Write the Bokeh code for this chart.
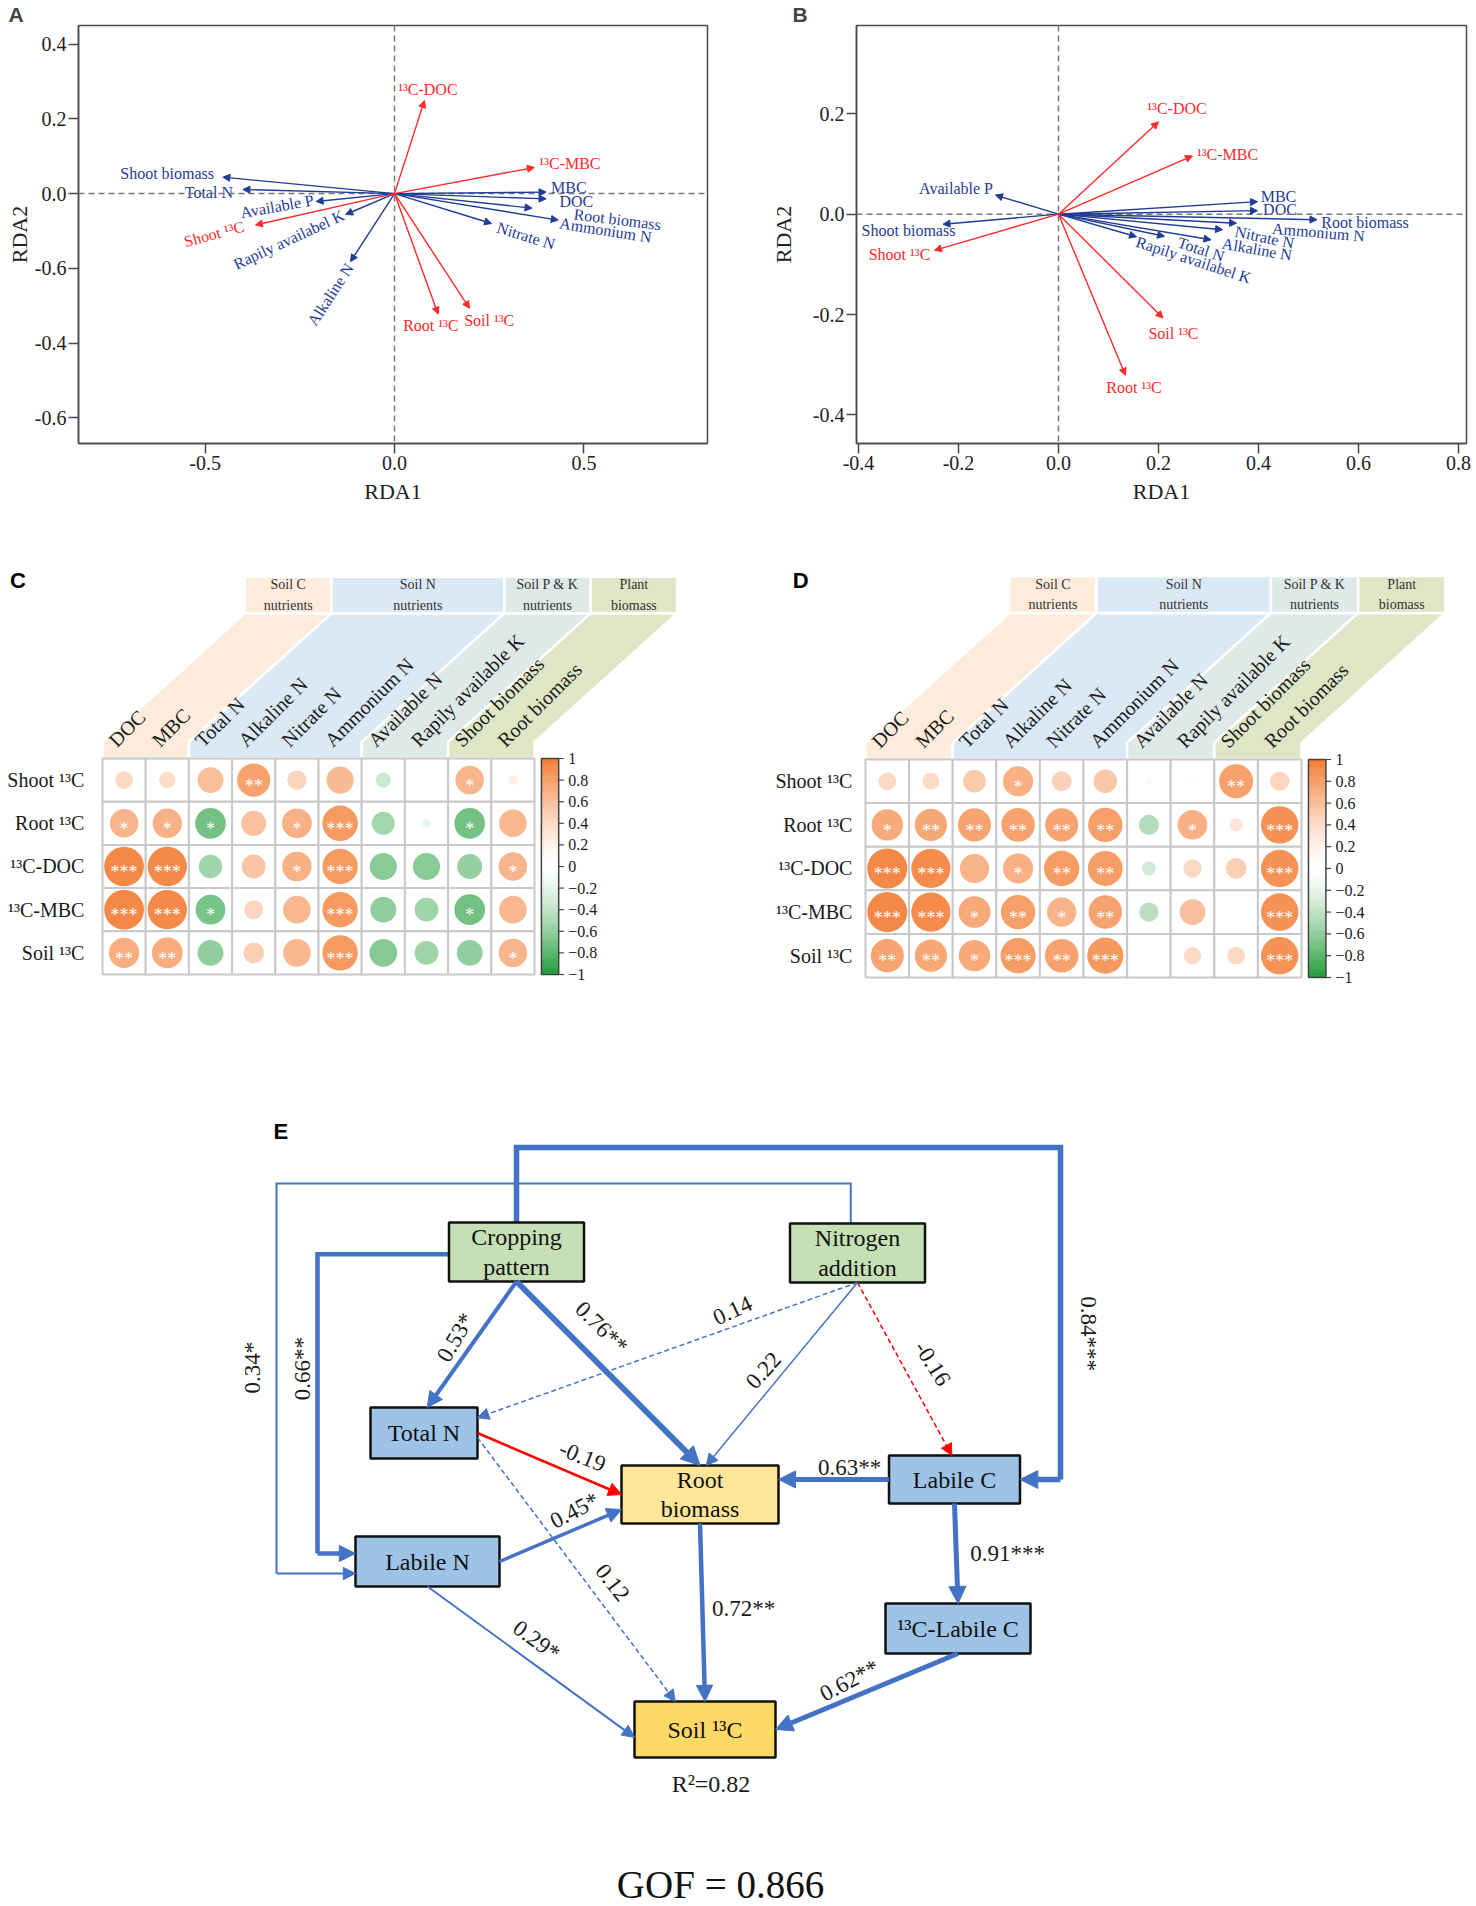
import math
from bokeh.plotting import figure
from bokeh.layouts import column, row
from bokeh.models import (Range1d, Span, Arrow, NormalHead, ColumnDataSource,
                          FixedTicker, CustomJSTickFormatter)
from bokeh.embed import file_html
from bokeh.resources import INLINE
from bokeh.core.properties import value

SERIF = "Liberation Serif"
SANS = "Liberation Sans"
RDA_BLUE = "#1f3c96"
RDA_RED = "#ff2a2a"
AXIS_COL = "#4a4a4a"

# ---------------------------------------------------------------- data: RDA (A, B)
rda_vars = ["¹³C-DOC", "¹³C-MBC", "Shoot ¹³C", "Root ¹³C", "Soil ¹³C",
            "Shoot biomass", "Total N", "Available P", "Rapily availabel K", "Alkaline N",
            "MBC", "DOC", "Root biomass", "Ammonium N", "Nitrate N"]
rda_is_response = [True, True, True, True, True,
                   False, False, False, False, False, False, False, False, False, False]

A_rda1 = [0.079, 0.369, -0.367, 0.115, 0.198, -0.453, -0.400, -0.207, -0.129, -0.116,
          0.400, 0.400, 0.363, 0.432, 0.256]
A_rda2 = [0.249, 0.070, -0.084, -0.323, -0.307, 0.044, 0.011, -0.021, -0.056, -0.182,
          0.004, -0.014, -0.039, -0.071, -0.080]
B_rda1 = [0.200, 0.268, -0.248, 0.134, 0.209, -0.231, 0.212, -0.126, 0.156, 0.305,
          0.398, 0.398, 0.517, 0.356, 0.328]
B_rda2 = [0.184, 0.116, -0.072, -0.321, -0.207, -0.020, -0.044, 0.038, -0.045, -0.051,
          0.025, 0.007, -0.011, -0.018, -0.031]

A_xticks = [-0.5, 0.0, 0.5]
A_xtick_labels = ["-0.5", "0.0", "0.5"]
A_yticks = [0.4, 0.2, 0.0, -0.2, -0.4, -0.6]
A_ytick_labels = ["0.4", "0.2", "0.0", "-0.6", "-0.4", "-0.6"]
B_xticks = [-0.4, -0.2, 0.0, 0.2, 0.4, 0.6, 0.8]
B_xtick_labels = ["-0.4", "-0.2", "0.0", "0.2", "0.4", "0.6", "0.8"]
B_yticks = [0.2, 0.0, -0.2, -0.4]
B_ytick_labels = ["0.2", "0.0", "-0.2", "-0.4"]
panel_letters = ["A", "B", "C", "D", "E"]

# label placement (layout only)
A_label_xy = [(0.088, 0.28), (0.463, 0.081), (-0.476, -0.108), (0.096, -0.353), (0.25, -0.34),
              (-0.60, 0.055), (-0.49, 0.004), (-0.31, -0.034), (-0.279, -0.123), (-0.169, -0.27),
              (0.46, 0.017), (0.48, -0.02), (0.588, -0.069), (0.557, -0.098), (0.347, -0.113)]
A_label_rot = [0, 0, 15, 0, 0, 0, 0, 10, 25, 57, 0, 0, -7, -9, -17]
B_label_xy = [(0.237, 0.21), (0.338, 0.119), (-0.318, -0.08), (0.151, -0.346), (0.23, -0.237),
              (-0.30, -0.033), (0.285, -0.07), (-0.205, 0.052), (0.27, -0.091), (0.397, -0.07),
              (0.44, 0.036), (0.443, 0.010), (0.613, -0.017), (0.52, -0.036), (0.412, -0.046)]
B_label_rot = [0, 0, 0, 0, 0, 0, -18, 0, -18, -10, 0, 0, 0, -5, -12]

# ---------------------------------------------------------------- data: correlations (C, D)
corr_rows = ["Shoot ¹³C", "Root ¹³C", "¹³C-DOC", "¹³C-MBC", "Soil ¹³C"]
corr_cols = ["DOC", "MBC", "Total N", "Alkaline N", "Nitrate N", "Ammonium N",
             "Available N", "Rapily available K", "Shoot biomass", "Root biomass"]
corr_groups = ["Soil C\nnutrients", "Soil N\nnutrients", "Soil P & K\nnutrients", "Plant\nbiomass"]
corr_group_span = [(0, 2), (2, 6), (6, 8), (8, 10)]
colorbar_ticks = [1, 0.8, 0.6, 0.4, 0.2, 0, -0.2, -0.4, -0.6, -0.8, -1]
colorbar_labels = ["1", "0.8", "0.6", "0.4", "0.2", "0", "−0.2", "−0.4", "−0.6", "−0.8", "−1"]

C_r = [
    [0.41, 0.38, 0.60, 0.77, 0.45, 0.63, -0.35, -0.05, 0.66, 0.22],
    [0.66, 0.68, -0.71, 0.58, 0.69, 0.82, -0.53, -0.20, -0.71, 0.64],
    [0.92, 0.91, -0.54, 0.55, 0.68, 0.82, -0.63, -0.63, -0.58, 0.66],
    [0.92, 0.91, -0.69, 0.44, 0.64, 0.82, -0.60, -0.55, -0.71, 0.64],
    [0.70, 0.71, -0.60, 0.48, 0.64, 0.82, -0.64, -0.55, -0.60, 0.66],
]
C_sig = [
    ["", "", "", "**", "", "", "", "", "*", ""],
    ["*", "*", "*", "", "*", "***", "", "", "*", ""],
    ["***", "***", "", "", "*", "***", "", "", "", "*"],
    ["***", "***", "*", "", "", "***", "", "", "*", ""],
    ["**", "**", "", "", "", "***", "", "", "", "*"],
]
D_r = [
    [0.41, 0.39, 0.52, 0.69, 0.46, 0.54, -0.12, 0.10, 0.78, 0.44],
    [0.72, 0.74, 0.76, 0.77, 0.76, 0.79, -0.46, 0.68, 0.30, 0.86],
    [0.92, 0.90, 0.67, 0.69, 0.81, 0.80, -0.32, 0.42, 0.48, 0.86],
    [0.92, 0.90, 0.73, 0.79, 0.67, 0.77, -0.44, 0.59, 0.00, 0.86],
    [0.76, 0.74, 0.72, 0.81, 0.77, 0.83, 0.05, 0.40, 0.41, 0.86],
]
D_sig = [
    ["", "", "", "*", "", "", "", "", "**", ""],
    ["*", "**", "**", "**", "**", "**", "", "*", "", "***"],
    ["***", "***", "", "*", "**", "**", "", "", "", "***"],
    ["***", "***", "*", "**", "*", "**", "", "", "", "***"],
    ["**", "**", "*", "***", "**", "***", "", "", "", "***"],
]

# ---------------------------------------------------------------- data: path model (E)
node_labels = ["Cropping\npattern", "Nitrogen\naddition", "Total N", "Root\nbiomass",
               "Labile C", "Labile N", "¹³C-Labile C", "Soil ¹³C"]
node_role = ["factor", "factor", "soil", "plant", "soil", "soil", "soil", "response"]
# node layout (page pixel frame of panel E)
node_cx = [516, 857, 423.5, 699.5, 954, 427, 957.5, 704.5]
node_cy = [1251.5, 1252.5, 1432.5, 1494, 1479, 1561, 1628, 1729]
node_w = [135, 135, 107, 157, 131, 144, 145, 141]
node_h = [59, 59, 51, 58, 48, 50, 50, 56]

path_from = [0, 0, 1, 1, 1, 2, 2, 5, 5, 3, 4, 4, 6, 0, 1, 0]
path_to = [2, 3, 2, 3, 4, 3, 7, 3, 7, 7, 3, 6, 7, 4, 5, 5]
path_coef = ["0.53*", "0.76**", "0.14", "0.22", "-0.16", "-0.19", "0.12", "0.45*", "0.29*",
             "0.72**", "0.63**", "0.91***", "0.62**", "0.84***", "0.34*", "0.66**"]
r2_text = "R²=0.82"
gof_text = "GOF = 0.866"

# edge layout / style
path_width = [4, 6, 1.5, 1.5, 1.5, 2.5, 1.5, 3.5, 2, 4.5, 5, 5, 5, 5.5, 2, 4.5]
path_dashed = [False, False, True, False, True, False, True, False, False,
               False, False, False, False, False, False, False]
src_side = ["bottom", "bottom", "bottom", "bottom", "bottom", "right", "right", "right", "bottom",
            "bottom", "left", "bottom", "bottom", "top", "top", "left"]
src_frac = [0, 0, 0, 0, 0, 0, 0.09, 0, 0, 0, 0, 0, 0, 0, -0.05, 0.04]
dst_side = ["top", "top", "right", "top", "top", "left", "top", "left", "left",
            "top", "right", "top", "right", "right", "left", "left"]
dst_frac = [0.03, 0, -0.3, 0.04, -0.02, 0, -0.21, 0.26, 0.14, 0, -0.26, 0, 0, 0, 0.24, -0.16]
path_route = [[], [], [], [], [], [], [], [], [], [], [], [], [],
              [("y", 1147), ("x", 1060), ("y", None)],
              [("y", 1183), ("x", 276), ("y", None)],
              [("x", 317), ("y", None)]]
path_label_pos = [(455, 1337, 60), (601, 1327, -45), (732, 1310, 25), (763, 1370, 48),
                  (932, 1363, -58), (582, 1456, -22), (612, 1582, -52), (574, 1510, 28),
                  (536, 1640, -36), (743, 1608, 0), (849, 1467, 0), (1007, 1553, 0),
                  (849, 1680, 28), (1088, 1333, -90), (252, 1367, 90), (302, 1368, 90)]


# ================================================================ helpers
def tick_fmt(tvals, tlabels):
    return CustomJSTickFormatter(args=dict(tvals=list(tvals), tlabels=list(tlabels)), code="""
        let best = 0; let bd = Infinity;
        for (let i = 0; i < tvals.length; i++) {
            const d = Math.abs(tvals[i] - tick);
            if (d < bd) { bd = d; best = i; }
        }
        return tlabels[best];
    """)


ORANGE = (243, 122, 48)
GREEN = (30, 155, 55)


def rcolor(r):
    t = min(abs(r), 1.0) ** 1.4
    c = ORANGE if r >= 0 else GREEN
    rgb = [round(255 + (c[k] - 255) * t) for k in range(3)]
    return "#%02x%02x%02x" % tuple(rgb)


def blank_fig(width, height, xr, yr):
    p = figure(width=width, height=height, x_range=Range1d(*xr), y_range=Range1d(*yr),
               output_backend="svg", toolbar_location=None,
               x_axis_location=None, y_axis_location=None, min_border=0,
               outline_line_color=None)
    p.grid.visible = False
    return p


def rda_panel(letter, letter_offset, rda1, rda2, lab_xy, lab_rot, xr, yr, xt, xl, yt, yl,
              borders, ylab_standoff):
    bl, br, bt, bb = borders
    p = figure(width=738, height=530, x_range=Range1d(*xr), y_range=Range1d(*yr),
               output_backend="svg", toolbar_location=None,
               min_border_left=bl, min_border_right=br, min_border_top=bt, min_border_bottom=bb)
    p.title.text = letter
    p.title.text_font = SANS
    p.title.text_font_style = "bold"
    p.title.text_font_size = "21px"
    p.title.align = "left"
    p.title.offset = letter_offset
    p.title.standoff = 0
    p.grid.visible = False
    p.outline_line_color = AXIS_COL
    p.outline_line_width = 1.5
    for ax, ticks, labels, name in ((p.xaxis[0], xt, xl, "RDA1"), (p.yaxis[0], yt, yl, "RDA2")):
        ax.ticker = FixedTicker(ticks=ticks)
        ax.formatter = tick_fmt(ticks, labels)
        ax.axis_label = name
        ax.axis_label_text_font = SERIF
        ax.axis_label_text_font_size = "22px"
        ax.axis_label_text_font_style = "normal"
        ax.axis_label_text_color = "#222222"
        ax.major_label_text_font = SERIF
        ax.major_label_text_font_size = "20px"
        ax.major_label_text_color = "#222222"
        ax.axis_line_color = AXIS_COL
        ax.axis_line_width = 1.5
        ax.major_tick_line_color = AXIS_COL
        ax.major_tick_line_width = 1.5
        ax.major_tick_out = 10
        ax.major_tick_in = 0
        ax.minor_tick_line_color = None
        ax.major_label_standoff = 2
    p.yaxis[0].axis_label_standoff = ylab_standoff
    p.xaxis[0].axis_label_standoff = 6
    p.add_layout(Span(location=0, dimension="width", line_color="#7a7a7a",
                      line_dash="6 4", line_width=1.5))
    p.add_layout(Span(location=0, dimension="height", line_color="#7a7a7a",
                      line_dash="6 4", line_width=1.5))
    for resp, col in ((False, RDA_BLUE), (True, RDA_RED)):
        idx = [i for i, v in enumerate(rda_is_response) if v == resp]
        src = ColumnDataSource(dict(x0=[0.0] * len(idx), y0=[0.0] * len(idx),
                                    x1=[rda1[i] for i in idx], y1=[rda2[i] for i in idx]))
        p.add_layout(Arrow(end=NormalHead(size=7, fill_color=col, line_color=col, line_width=1),
                           x_start="x0", y_start="y0", x_end="x1", y_end="y1", source=src,
                           line_color=col, line_width=1.4))
        p.text(x=[lab_xy[i][0] for i in idx], y=[lab_xy[i][1] for i in idx],
               text=[rda_vars[i] for i in idx],
               angle=[math.radians(lab_rot[i]) for i in idx],
               text_color=col, text_font=value(SERIF), text_font_size="16px",
               text_align="center", text_baseline="middle")
    return p


GROUP_COLORS = ["#fdebdc", "#dbe9f7", "#dfe9e7", "#dee6c6"]
SH, YB, YH, YT = 3.3, -0.38, -3.36, -4.21


def corr_panel(letter, R, S, xr, yr, rowlab_x, letter_xy):
    p = blank_fig(738, 470, xr, yr)
    # group bands
    for (b0, b1), gname, col in zip(corr_group_span, corr_groups, GROUP_COLORS):
        p.patch([b0, b0, b0 + SH, b1 + SH, b1, b1], [0, YB, YH, YH, YB, 0],
                fill_color=col, line_color="white", line_width=2.5)
        p.patch([b0 + SH, b1 + SH, b1 + SH, b0 + SH], [YH, YH, YT, YT],
                fill_color=col, line_color="white", line_width=2.5)
        p.text(x=[(b0 + b1) / 2 + SH], y=[(YH + YT) / 2], text=[gname],
               text_font=value(SERIF), text_font_size="14px", text_color="#333333",
               text_align="center", text_baseline="middle", text_line_height=1.35)
    # column labels
    p.text(x=[i + 0.22 for i in range(len(corr_cols))], y=[-0.35] * len(corr_cols),
           text=corr_cols, angle=[math.radians(45)] * len(corr_cols),
           text_font=value(SERIF), text_font_size="20px", text_color="#1a1a1a",
           text_align="left", text_baseline="middle")
    # cells
    cx, cy, rr, st = [], [], [], []
    for j in range(len(corr_rows)):
        for i in range(len(corr_cols)):
            cx.append(i + 0.5)
            cy.append(j + 0.5)
            rr.append(R[j][i])
            st.append(S[j][i])
    p.rect(x=cx, y=cy, width=1, height=1, fill_color="white", line_color="#c8c8c8",
           line_width=2)
    p.circle(x=cx, y=cy, radius=[0.5 * abs(v) for v in rr],
             fill_color=[rcolor(v) for v in rr], line_color=None)
    p.text(x=cx, y=[v + 0.13 for v in cy], text=st, text_color="white",
           text_font=value(SERIF), text_font_size="18px", text_align="center",
           text_baseline="middle")
    # row labels
    p.text(x=[rowlab_x] * len(corr_rows), y=[j + 0.5 for j in range(len(corr_rows))],
           text=corr_rows, text_font=value(SERIF), text_font_size="20px",
           text_color="#1a1a1a", text_align="right", text_baseline="middle")
    # colour bar
    n = 120
    x0, x1 = 10.16, 10.56
    vals = [1 - 2 * (k + 0.5) / n for k in range(n)]
    p.rect(x=[(x0 + x1) / 2] * n, y=[5 * (k + 0.5) / n for k in range(n)],
           width=x1 - x0, height=5 / n * 1.25, fill_color=[rcolor(v) for v in vals],
           line_color=None)
    p.rect(x=[(x0 + x1) / 2], y=[2.5], width=x1 - x0, height=5, fill_color=None,
           line_color="#444444", line_width=1.5)
    ty = [(1 - v) / 2 * 5 for v in colorbar_ticks]
    p.segment(x0=[x1] * len(ty), x1=[x1 + 0.12] * len(ty), y0=ty, y1=ty,
              line_color="#444444", line_width=1.2)
    p.text(x=[x1 + 0.22] * len(ty), y=ty, text=colorbar_labels, text_font=value(SERIF),
           text_font_size="16px", text_color="#1a1a1a", text_align="left",
           text_baseline="middle")
    p.text(x=[letter_xy[0]], y=[letter_xy[1]], text=[letter], text_font=value(SANS),
           text_font_style="bold", text_font_size="22px", text_color="black",
           text_align="left", text_baseline="top")
    return p


def anchor(i, side, frac):
    cx, cy, w, h = node_cx[i], node_cy[i], node_w[i], node_h[i]
    if side == "top":
        return (cx + frac * w, cy - h / 2)
    if side == "bottom":
        return (cx + frac * w, cy + h / 2)
    if side == "left":
        return (cx - w / 2, cy + frac * h)
    return (cx + w / 2, cy + frac * h)


def path_panel():
    p = blank_fig(1476, 906, (0, 1476), (1906, 1000))
    blue, red = "#4472c4", "#ff0000"
    for k in range(len(path_from)):
        col = red if path_coef[k].startswith("-") else blue
        lw = path_width[k]
        dash = "5 3" if path_dashed[k] else "solid"
        start = anchor(path_from[k], src_side[k], src_frac[k])
        end = anchor(path_to[k], dst_side[k], dst_frac[k])
        pts = [start]
        for axis, v in path_route[k]:
            cur = pts[-1]
            if axis == "y":
                pts.append((cur[0], end[1] if v is None else v))
            else:
                pts.append((end[0] if v is None else v, cur[1]))
        if len(pts) > 1:
            p.line(x=[q[0] for q in pts], y=[q[1] for q in pts], line_color=col,
                   line_width=lw, line_join="miter")
        head = NormalHead(size=9 + 1.6 * lw, fill_color=col, line_color=col, line_width=1)
        p.add_layout(Arrow(end=head, x_start=pts[-1][0], y_start=pts[-1][1],
                           x_end=end[0], y_end=end[1], line_color=col, line_width=lw,
                           line_dash=dash))
    # edge labels
    p.text(x=[q[0] for q in path_label_pos], y=[q[1] for q in path_label_pos],
           text=path_coef, angle=[math.radians(q[2]) for q in path_label_pos],
           text_font=value(SERIF), text_font_size="23px", text_color="#1a1a1a",
           text_align="center", text_baseline="middle")
    fills = {"factor": "#c5e0b4", "soil": "#9dc3e6", "plant": "#ffe699", "response": "#ffd966"}
    p.rect(x=node_cx, y=node_cy, width=node_w, height=node_h,
           fill_color=[fills[r] for r in node_role], line_color="#111111", line_width=2.5)
    p.text(x=node_cx, y=node_cy, text=node_labels, text_font=value(SERIF),
           text_font_size="24px", text_color="#111111", text_align="center",
           text_baseline="middle", text_line_height=1.12)
    cs = node_labels.index("Soil ¹³C")
    p.text(x=[node_cx[cs] + 6], y=[node_cy[cs] + node_h[cs] / 2 + 26], text=[r2_text],
           text_font=value(SERIF), text_font_size="24px", text_color="#1a1a1a",
           text_align="center", text_baseline="middle")
    p.text(x=[720], y=[1884], text=[gof_text], text_font=value(SERIF),
           text_font_size="39px", text_color="#111111", text_align="center",
           text_baseline="middle")
    p.text(x=[273], y=[1118], text=[panel_letters[4]], text_font=value(SANS),
           text_font_style="bold", text_font_size="22px", text_color="black",
           text_align="left", text_baseline="top")
    return p


# page coordinates below equal reference-pixel coordinates (page has no margin)
pA = rda_panel(panel_letters[0], -70, A_rda1, A_rda2, A_label_xy, A_label_rot,
               (-0.834, 0.826), (-0.669, 0.450), A_xticks, A_xtick_labels,
               A_yticks, A_ytick_labels, (78, 31, 24, 83), 0)
pB = rda_panel(panel_letters[1], -64, B_rda1, B_rda2, B_label_xy, B_label_rot,
               (-0.404, 0.816), (-0.457, 0.376), B_xticks, B_xtick_labels,
               B_yticks, B_ytick_labels, (118, 10, 24, 87), 14)
pC = corr_panel(panel_letters[2], C_r, C_sig, (-2.361, 14.722), (5.602, -5.278), -0.42,
                (-2.14, -4.42))
pD = corr_panel(panel_letters[3], D_r, D_sig, (-2.913, 14.014), (5.528, -5.252), -0.3,
                (-1.67, -4.40))
pE = path_panel()

layout = column(row(pA, pB), row(pC, pD), pE)
open("out.html", "w").write(file_html(layout, INLINE))
